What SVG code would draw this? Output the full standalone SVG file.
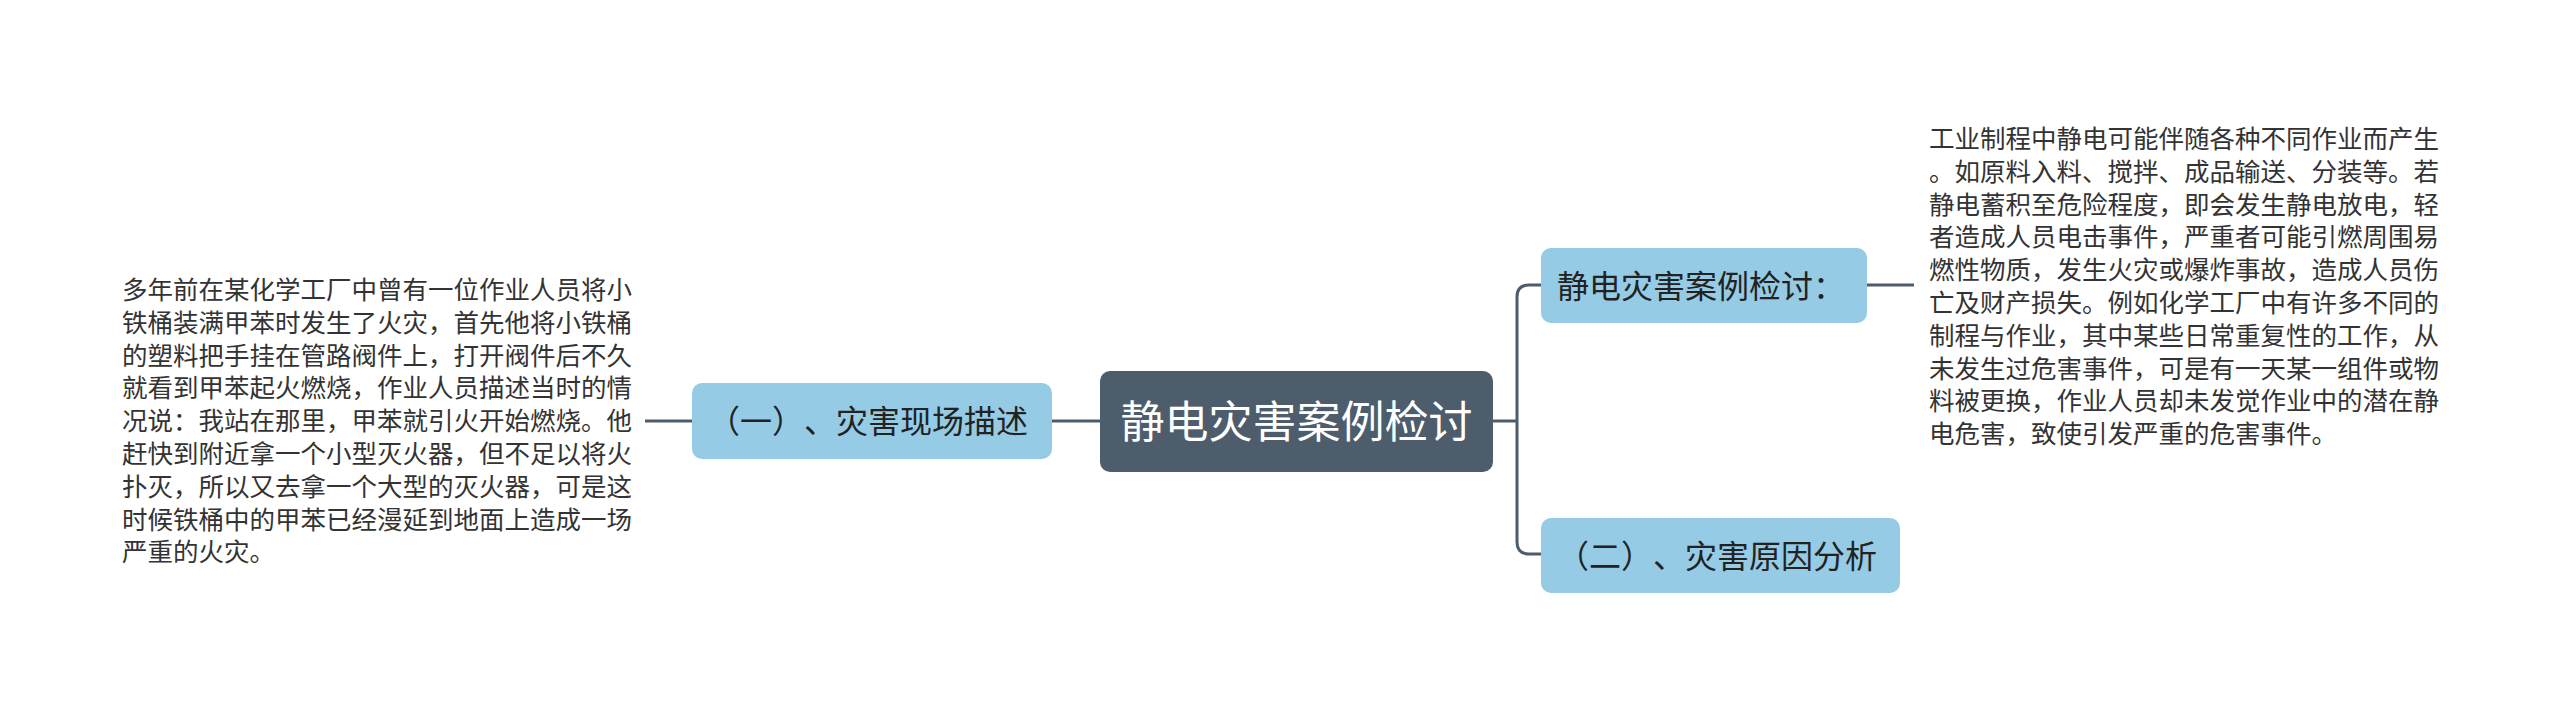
<svg xmlns="http://www.w3.org/2000/svg" width="2560" height="703" viewBox="0 0 2560 703">
<style>
text{font-family:"Noto Sans CJK SC","Noto Sans",sans-serif;text-spacing-trim:space-all;}
.conn{fill:none;stroke:#4d5d6c;stroke-width:3;}
.root rect{fill:#4d5d6c;}
.root text{fill:#ffffff;font-size:44px;}
.sub rect{fill:#95cbe4;}
.sub text{fill:#222222;font-size:32px;}
.leaf text{fill:#333333;font-size:25.5px;}
</style>
<rect width="2560" height="703" fill="#ffffff"/>
<g id="connectors">
<path class="conn" d="M1100 421 H1052"/>
<path class="conn" d="M692 421 H645"/>
<path class="conn" d="M1493 421 H1517"/>
<path class="conn" d="M1541 285 H1529 Q1517 285 1517 297 V542 Q1517 554 1529 554 H1541"/>
<path class="conn" d="M1867 285 H1914"/>
</g>
<g id="root" class="root">
<rect x="1100" y="371" width="393" height="101" rx="10"/>
<text x="1296.5" y="438" text-anchor="middle">静电灾害案例检讨</text>
</g>
<g id="node-left" class="sub">
<rect x="692" y="383" width="360" height="76" rx="10"/>
<text x="708 740 772 804 836 868 900 932 964 996" y="433">（一）、灾害现场描述</text>
</g>
<g id="node-top" class="sub">
<rect x="1541" y="248" width="326" height="75" rx="10"/>
<text x="1557" y="297.5">静电灾害案例检讨：</text>
</g>
<g id="node-bottom" class="sub">
<rect x="1541" y="518" width="359" height="75" rx="10"/>
<text x="1557 1589 1621 1653 1685 1717 1749 1781 1813 1845" y="567.5">（二）、灾害原因分析</text>
</g>
<g id="leaf-left" class="leaf">
<text x="122">
<tspan x="122" y="299">多年前在某化学工厂中曾有一位作业人员将小</tspan>
<tspan x="122" y="331.8">铁桶装满甲苯时发生了火灾，首先他将小铁桶</tspan>
<tspan x="122" y="364.6">的塑料把手挂在管路阀件上，打开阀件后不久</tspan>
<tspan x="122" y="397.4">就看到甲苯起火燃烧，作业人员描述当时的情</tspan>
<tspan x="122" y="430.2">况说：我站在那里，甲苯就引火开始燃烧。他</tspan>
<tspan x="122" y="463">赶快到附近拿一个小型灭火器，但不足以将火</tspan>
<tspan x="122" y="495.8">扑灭，所以又去拿一个大型的灭火器，可是这</tspan>
<tspan x="122" y="528.6">时候铁桶中的甲苯已经漫延到地面上造成一场</tspan>
<tspan x="122" y="561.4">严重的火灾。</tspan>
</text>
</g>
<g id="leaf-right" class="leaf">
<text x="1929">
<tspan x="1929" y="148">工业制程中静电可能伴随各种不同作业而产生</tspan>
<tspan x="1929" y="180.8">。如原料入料、搅拌、成品输送、分装等。若</tspan>
<tspan x="1929" y="213.6">静电蓄积至危险程度，即会发生静电放电，轻</tspan>
<tspan x="1929" y="246.4">者造成人员电击事件，严重者可能引燃周围易</tspan>
<tspan x="1929" y="279.2">燃性物质，发生火灾或爆炸事故，造成人员伤</tspan>
<tspan x="1929" y="312">亡及财产损失。例如化学工厂中有许多不同的</tspan>
<tspan x="1929" y="344.8">制程与作业，其中某些日常重复性的工作，从</tspan>
<tspan x="1929" y="377.6">未发生过危害事件，可是有一天某一组件或物</tspan>
<tspan x="1929" y="410.4">料被更换，作业人员却未发觉作业中的潜在静</tspan>
<tspan x="1929" y="443.2">电危害，致使引发严重的危害事件。</tspan>
</text>
</g>
</svg>
